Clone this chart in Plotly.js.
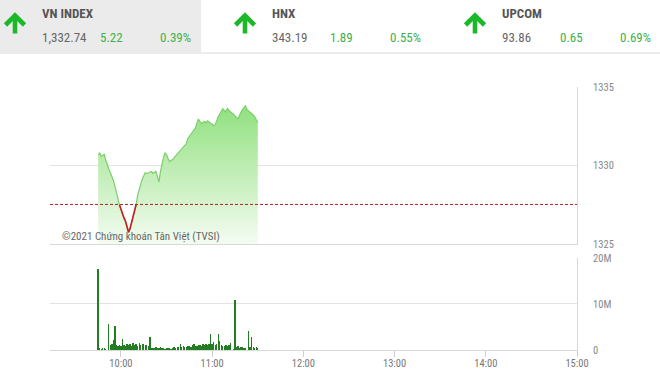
<!DOCTYPE html>
<html>
<head>
<meta charset="utf-8">
<script src="https://cdn.plot.ly/plotly-3.0.1.min.js"></script>
<style>
  html, body { margin:0; padding:0; background:#fff; }
  #wrap { position:relative; width:660px; height:379px; overflow:hidden; }
  #chart { position:absolute; left:0; top:0; width:660px; height:379px; }
  #hdr { position:absolute; left:0; top:0; width:660px; height:54px; pointer-events:none;
         font-family:"Liberation Sans Narrow","Roboto Condensed","DejaVu Sans Condensed",sans-serif; }
  .tabbg { position:absolute; left:0; top:0; width:201px; height:52px; background:#ebebeb; }
  .rule { position:absolute; left:0; top:52px; width:660px; height:2px; background:#ececec; }
  .t { position:absolute; white-space:nowrap; line-height:16px; height:16px; }
  .name { font-weight:bold; font-size:13px; color:#555; }
  .val { font-size:13px; color:#666; }
  .chg { font-size:13px; color:#43b049; }
  .arrow { position:absolute; }
</style>
</head>
<body>
<div id="wrap">
  <div id="chart"></div>
  <div id="hdr"></div>
</div>
<script>
// ---------------- data ----------------
const indexNames   = ['VN INDEX', 'HNX', 'UPCOM'];
const indexValues  = ['1,332.74', '343.19', '93.86'];
const indexChanges = ['5.22', '1.89', '0.65'];
const indexPercent = ['0.39%', '0.55%', '0.69%'];

const refPrice = 1327.52;   // previous close
const sessionDate = '2021-03-01';
const startHour = 9, startMinute = 45;   // first minute shown

// VN-Index, one value per minute from 09:45 to 11:30
const prices = [
  1330.67, 1330.80, 1330.58, 1330.66, 1330.72, 1330.35, 1330.02, 1329.78, 1329.55, 1329.32,
  1329.05, 1328.70, 1328.25, 1327.85, 1327.50, 1327.22, 1326.85, 1326.66, 1326.45, 1326.08,
  1325.75, 1325.98, 1326.35, 1326.62, 1327.05, 1327.52, 1328.10, 1328.52, 1328.80, 1329.12,
  1329.35, 1329.55, 1329.48, 1329.52, 1329.58, 1329.62, 1329.50, 1329.57, 1329.62, 1329.30,
  1328.95, 1329.62, 1330.20, 1330.52, 1330.80, 1330.70, 1330.45, 1330.25, 1330.32, 1330.38,
  1330.50, 1330.62, 1330.72, 1330.80, 1330.95, 1331.10, 1331.18, 1331.28, 1331.40, 1331.72,
  1331.85, 1331.98, 1332.10, 1332.22, 1332.40, 1332.70, 1332.96, 1332.80, 1332.68, 1332.75,
  1332.80, 1332.72, 1332.85, 1332.78, 1332.72, 1332.62, 1332.55, 1332.60, 1332.90, 1333.10,
  1333.28, 1333.45, 1333.62, 1333.50, 1333.42, 1333.64, 1333.50, 1333.42, 1333.35, 1333.28,
  1333.15, 1333.02, 1332.96, 1333.20, 1333.45, 1333.58, 1333.70, 1333.80, 1333.56, 1333.48,
  1333.42, 1333.30, 1333.22, 1333.10, 1332.95, 1332.74
];

// traded volume per minute, millions of shares
const volumesM = [
  17.6, 0.4, 0.3, 0.5, 0.4, 0.3, 0.0, 5.6, 1.0, 1.2,
  2.2, 5.2, 1.1, 0.9, 1.0, 0.8, 2.4, 1.1, 0.9, 1.3,
  1.0, 1.2, 0.9, 1.5, 1.1, 1.3, 0.9, 1.6, 1.0, 1.2,
  1.4, 1.0, 1.1, 0.9, 2.9, 0.5, 0.4, 0.5, 0.6, 0.4,
  0.5, 0.6, 0.4, 0.5, 0.3, 0.4, 0.5, 0.4, 0.3, 0.5,
  0.6, 0.5, 0.7, 0.6, 1.4, 0.6, 0.8, 0.7, 0.6, 0.9,
  0.8, 0.7, 1.0, 1.4, 0.8, 0.9, 1.1, 1.0, 0.8, 1.2,
  1.0, 1.3, 1.1, 1.4, 3.4, 1.2, 1.7, 1.0, 1.3, 3.4,
  2.0, 1.1, 0.9, 0.8, 1.0, 0.9, 1.1, 1.6, 0.0, 0.3,
  10.9, 0.6, 0.8, 0.5, 0.7, 0.6, 0.5, 0.4, 0.0, 4.1,
  0.6, 2.9, 0.7, 0.5, 0.6, 0.4
];

const hourTicks  = [10, 11, 12, 13, 14, 15];
const hourLabels = ['10:00', '11:00', '12:00', '13:00', '14:00', '15:00'];
const priceTicks = [1325, 1330, 1335];
const volTicks   = [0, 10, 20];
const volLabels  = ['0', '10M', '20M'];
const watermark  = '©2021 Chứng khoán Tân Việt (TVSI)';

// ---------------- helpers ----------------
function pad(n) { return (n < 10 ? '0' : '') + n; }
function stamp(h, m, s) { return sessionDate + ' ' + pad(h) + ':' + pad(m) + ':' + pad(s || 0); }
function minuteStamp(i) {
  const tot = startHour * 60 + startMinute + i;
  return stamp(Math.floor(tot / 60), tot % 60, 0);
}
const times = prices.map((_, i) => minuteStamp(i));
const volumes = volumesM.map(v => v * 1e6);

// red part of the line: minutes where the index is under the reference
const redX = [], redY = [];
prices.forEach((p, i) => { if (p <= refPrice + 0.005) { redX.push(times[i]); redY.push(p); } });

const FONT = '"Liberation Sans Narrow","Roboto Condensed","DejaVu Sans Condensed",sans-serif';
const GRID = '#e3e3e3';
const LINE = '#d9d9d9';

const traces = [
  {
    x: times, y: prices, type: 'scatter', mode: 'lines',
    line: { color: '#7dcf6c', width: 1.2 },
    fill: 'tozeroy',
    fillgradient: { type: 'vertical', start: 1325, stop: 1334,
                    colorscale: [[0, '#f5fcf3'], [1, '#8fe07d']] },
    xaxis: 'x', yaxis: 'y', hoverinfo: 'skip', showlegend: false
  },
  {
    x: redX, y: redY, type: 'scatter', mode: 'lines',
    line: { color: '#c81e1e', width: 1.6 },
    xaxis: 'x', yaxis: 'y', hoverinfo: 'skip', showlegend: false
  },
  {
    x: times, y: volumes, type: 'bar',
    width: 60000 * 0.9,
    marker: { color: '#237d23', line: { width: 0 } },
    xaxis: 'x2', yaxis: 'y2', hoverinfo: 'skip', showlegend: false
  }
];

const xr = [stamp(9, 13, 20), stamp(15, 0, 0)];
const layout = {
  width: 660, height: 379,
  margin: { l: 50, r: 83, t: 87, b: 29 },
  paper_bgcolor: '#fff', plot_bgcolor: '#fff',
  font: { family: FONT, size: 10.5, color: '#888' },
  bargap: 0,
  xaxis: {
    type: 'date', range: xr, domain: [0, 1], anchor: 'y',
    showticklabels: false, showgrid: false, zeroline: false,
    showline: true, linecolor: LINE, linewidth: 1, ticks: ''
  },
  yaxis: {
    domain: [0.403, 1], range: [1325, 1335], side: 'right',
    tickvals: priceTicks, ticktext: priceTicks.map(String),
    showgrid: true, gridcolor: GRID, zeroline: false,
    showline: true, linecolor: LINE, linewidth: 1, ticks: '',
    ticklabelstandoff: 13, tickfont: { family: FONT, size: 10.5, color: '#888' }
  },
  xaxis2: {
    type: 'date', range: xr, domain: [0, 1], anchor: 'y2',
    tickvals: hourTicks.map(h => stamp(h, 0, 0)), ticktext: hourLabels,
    showgrid: false, zeroline: false,
    showline: true, linecolor: LINE, linewidth: 1,
    ticks: 'outside', ticklen: 6, tickcolor: '#cfcfcf', tickwidth: 1,
    ticklabelstandoff: -3,
    tickfont: { family: FONT, size: 10.5, color: '#777' }
  },
  yaxis2: {
    domain: [0, 0.35], range: [0, 20e6], side: 'right',
    tickvals: volTicks.map(v => v * 1e6), ticktext: volLabels,
    showgrid: true, gridcolor: GRID, zeroline: false,
    showline: true, linecolor: LINE, linewidth: 1, ticks: '',
    ticklabelstandoff: 13, tickfont: { family: FONT, size: 10.5, color: '#888' }
  },
  shapes: [
    { type: 'line', xref: 'paper', x0: 0, x1: 1, yref: 'y', y0: refPrice, y1: refPrice,
      line: { color: '#b32020', width: 1, dash: '3px,2px' } }
  ],
  annotations: [
    { text: watermark, xref: 'paper', x: 10 / 527, xanchor: 'left',
      yref: 'y', y: 1325.47, yanchor: 'middle', showarrow: false,
      font: { family: FONT, size: 11, color: '#666' } }
  ]
};

Plotly.newPlot('chart', traces, layout, { staticPlot: true, displayModeBar: false });

// ---------------- header (index tabs) ----------------
const hdr = document.getElementById('hdr');
let html = '<div class="tabbg"></div><div class="rule"></div>';
indexNames.forEach((name, i) => {
  const off = i * 230;
  html += '<svg class="arrow" style="left:' + (3 + off) + 'px;top:12px" width="24" height="22" viewBox="0 0 24 22">' +
          '<polyline points="2.5,13 12,3.5 21.5,13" fill="none" stroke="#1cb82a" stroke-width="4.6" stroke-linejoin="miter" stroke-miterlimit="10"/>' +
          '<line x1="12" y1="5" x2="12" y2="21.5" stroke="#1cb82a" stroke-width="4.6"/></svg>';
  html += '<div class="t name" style="left:' + (42 + off) + 'px;top:6px">' + name + '</div>';
  html += '<div class="t val" style="left:' + (42 + off) + 'px;top:30px">' + indexValues[i] + '</div>';
  html += '<div class="t chg" style="left:' + (100 + off) + 'px;top:30px">' + indexChanges[i] + '</div>';
  html += '<div class="t chg" style="right:' + (660 - 191 - off) + 'px;top:30px">' + indexPercent[i] + '</div>';
});
hdr.innerHTML = html;
</script>
</body>
</html>
